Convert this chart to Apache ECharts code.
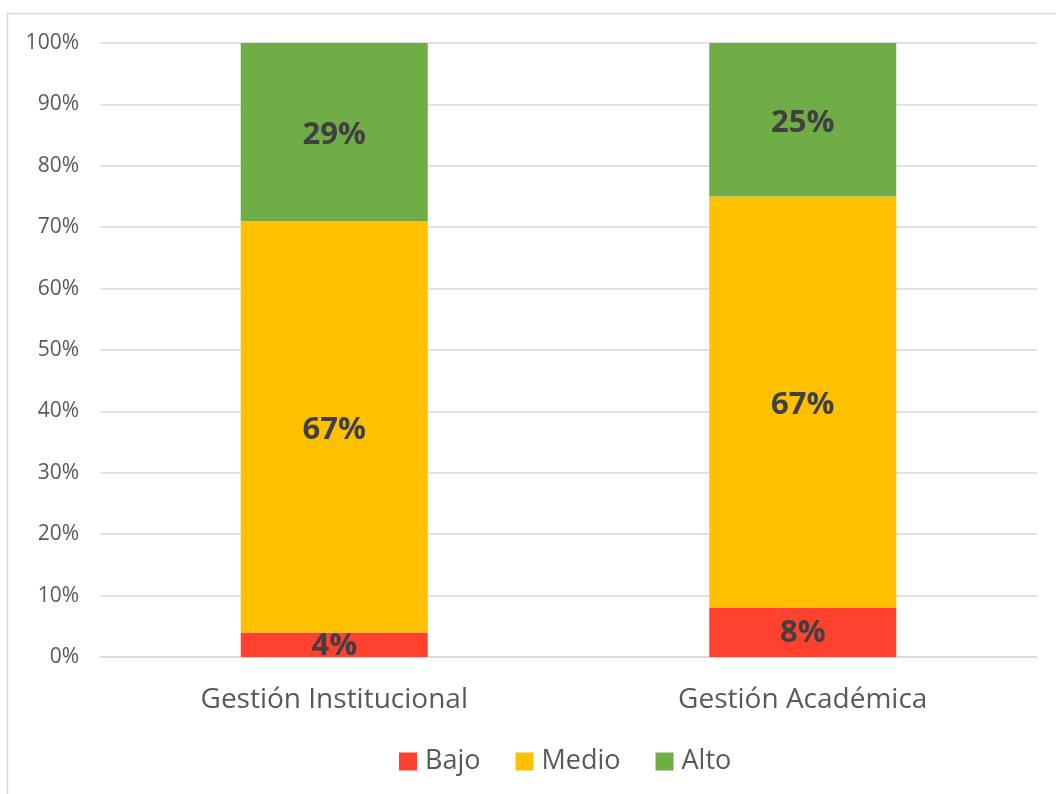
<!DOCTYPE html>
<html><head><meta charset="utf-8">
<script src="https://cdn.jsdelivr.net/npm/echarts@6/dist/echarts.min.js"></script>
<style>html,body{margin:0;padding:0;background:#fff;}#c{width:1056px;height:794px;}</style>
</head><body><div id="c"></div>
<script>
const categories = ['Gestión Institucional', 'Gestión Académica'];
const bajo = [4, 8];
const medio = [67, 67];
const alto = [29, 25];
const seriesNames = ['Bajo', 'Medio', 'Alto'];
const colors = ['#FF4130', '#FFC000', '#70AD47'];

const font = '"Open Sans", "Noto Sans", sans-serif';
const chart = echarts.init(document.getElementById('c'));
const mk = (name, data, color, dy) => ({
  name, type: 'bar', stack: 'a', data, barWidth: 187,
  itemStyle: { color },
  label: { show: true, position: 'inside', offset: [0, dy], formatter: '{c}%', fontFamily: font, fontWeight: 'bold', fontSize: 31, color: '#404040' }
});
chart.setOption({
  animation: false,
  graphic: [{ type: 'rect', shape: { x: 7.5, y: 13.5, width: 1060, height: 800 }, style: { fill: 'none', stroke: '#D9D9D9', lineWidth: 1.5 }, silent: true }],
  grid: { left: 100, right: 19, top: 43, bottom: 137 },
  legend: {
    data: seriesNames, bottom: 14, left: 394, itemWidth: 18, itemHeight: 18, itemGap: 35,
    textStyle: { fontFamily: font, fontSize: 27, color: '#595959', padding: [0, 0, 0, 3] }, icon: 'rect'
  },
  xAxis: {
    type: 'category', data: categories,
    axisLine: { lineStyle: { color: '#D9D9D9', width: 1.5 } }, axisTick: { show: false },
    axisLabel: { fontFamily: font, fontSize: 28, color: '#595959', margin: 29 }
  },
  yAxis: {
    type: 'value', min: 0, max: 100, interval: 10,
    axisLabel: { formatter: '{value}%', fontFamily: font, fontSize: 21, color: '#595959', margin: 21 },
    splitLine: { lineStyle: { color: '#D9D9D9', width: 1.5 } }, axisLine: { show: false }, axisTick: { show: false }
  },
  series: [mk('Bajo', bajo, colors[0], 1), mk('Medio', medio, colors[1], 3), mk('Alto', alto, colors[2], 3)]
});
</script></body></html>
